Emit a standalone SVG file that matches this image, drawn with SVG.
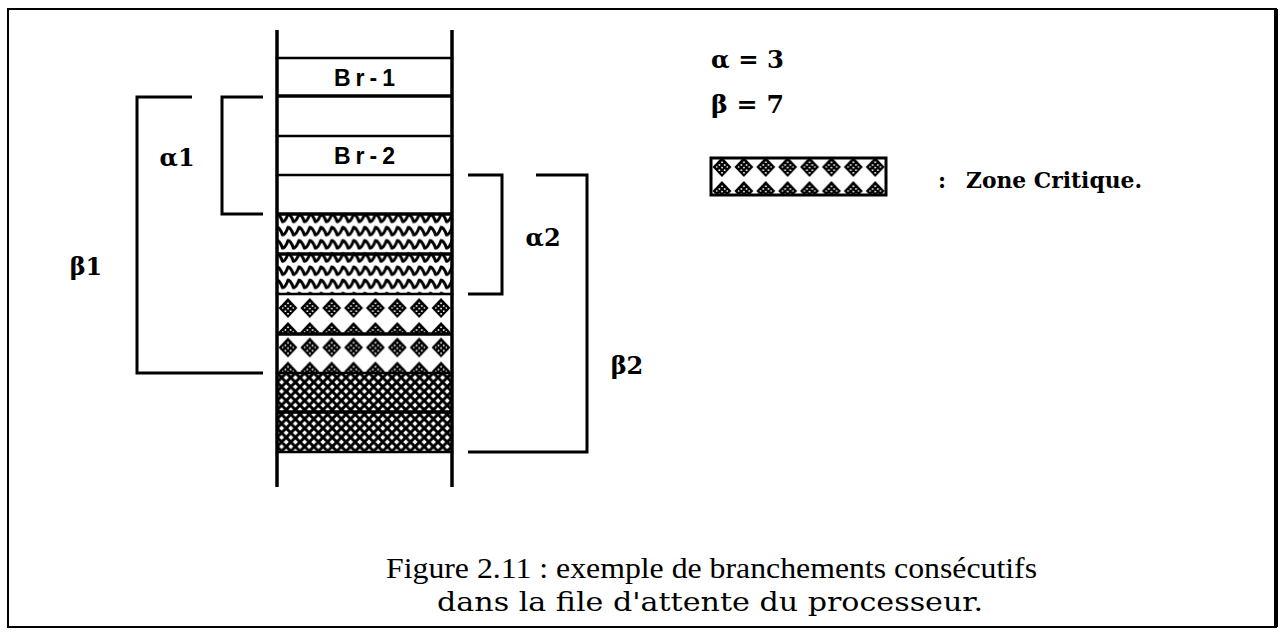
<svg xmlns="http://www.w3.org/2000/svg" width="1283" height="633" viewBox="0 0 1283 633">
<style>
.ln{stroke:#000;fill:none;stroke-width:2.5;stroke-linecap:square}
.thk{stroke:#000;fill:none;stroke-width:3.5}
.br{stroke:#000;fill:none;stroke-width:3}
.lbl{font-family:"DejaVu Serif","Liberation Serif",serif;font-weight:bold;font-size:24px;fill:#000}
.box{font-family:"Liberation Sans",Arial,sans-serif;font-weight:bold;font-size:23px;letter-spacing:5px;fill:#000}
.cap{font-family:"Liberation Serif","DejaVu Serif",serif;font-size:30px;fill:#000}
.cap2{font-family:"DejaVu Serif","Liberation Serif",serif;font-size:26px;fill:#000}
.zone{font-family:"DejaVu Serif","Liberation Serif",serif;font-weight:bold;font-size:22px;fill:#000}
</style>
<defs>
<pattern id="wave" patternUnits="userSpaceOnUse" x="277" y="0" width="21.875" height="13.2">
<path d="M-5.47,10.5 Q-2.7,10.5 0,3 Q2.7,3 5.47,10.5 Q8.2,10.5 10.94,3 Q13.7,3 16.4,10.5 Q19.1,10.5 21.875,3 Q24.6,3 27.34,10.5" fill="none" stroke="#000" stroke-width="3" stroke-linejoin="round"/>
</pattern>
<g id="dshape">
<path d="M10.94,2 L20.4,12 L10.94,22 L1.5,12 Z" fill="#000"/>
<g fill="#fff">
<rect x="10.2" y="6.5" width="1.6" height="1.6"/>
<rect x="7.6" y="9.2" width="1.6" height="1.6"/>
<rect x="12.8" y="9.2" width="1.6" height="1.6"/>
<rect x="5" y="11.3" width="1.4" height="1.4"/>
<rect x="15.5" y="11.3" width="1.4" height="1.4"/>
<rect x="10.2" y="11.8" width="1.6" height="1.6"/>
<rect x="7.6" y="14.4" width="1.6" height="1.6"/>
<rect x="12.8" y="14.4" width="1.6" height="1.6"/>
<rect x="10.2" y="17" width="1.6" height="1.6"/>
</g>
</g>
<pattern id="diam" patternUnits="userSpaceOnUse" x="277" y="8" width="21.875" height="24">
<use href="#dshape"/>
</pattern>
<pattern id="diamL" patternUnits="userSpaceOnUse" x="711" y="155" width="21.9" height="24">
<use href="#dshape"/>
</pattern>
<pattern id="hatch" patternUnits="userSpaceOnUse" x="277" y="373" width="9.2" height="9.2">
<rect width="9.2" height="9.2" fill="#fff"/>
<path d="M0,0 L9.2,9.2 M9.2,0 L0,9.2" stroke="#000" stroke-width="2.9"/>
<path d="M-1,8.2 L1,10.2 M8.2,-1 L10.2,1 M-1,1 L1,-1 M8.2,10.2 L10.2,8.2" stroke="#000" stroke-width="2.9"/>
</pattern>
</defs>

<rect id="frame" x="8" y="9" width="1268" height="618" fill="#fff" stroke="#000" stroke-width="2"/>
<line x1="1276" y1="9" x2="1276" y2="627" stroke="#000" stroke-width="4"/>

<g id="queue">
<rect x="277" y="214" width="175" height="40" fill="url(#wave)"/>
<rect x="277" y="254" width="175" height="40" fill="url(#wave)"/>
<rect x="277" y="294" width="175" height="40" fill="url(#diam)"/>
<g transform="translate(0,39.5)"><rect x="277" y="294" width="175" height="39.5" fill="url(#diam)"/></g>
<rect x="277" y="373" width="175" height="79" fill="url(#hatch)"/>
<line class="ln" x1="277" y1="58" x2="452" y2="58"/>
<line class="thk" x1="277" y1="96" x2="452" y2="96"/>
<line class="ln" x1="277" y1="136" x2="452" y2="136"/>
<line class="ln" x1="277" y1="175" x2="452" y2="175"/>
<line class="thk" x1="277" y1="214" x2="452" y2="214"/>
<line class="thk" x1="277" y1="254" x2="452" y2="254"/>
<line class="ln" x1="277" y1="294" x2="452" y2="294"/>
<line class="thk" x1="277" y1="334" x2="452" y2="334"/>
<line class="ln" x1="277" y1="373" x2="452" y2="373"/>
<line class="thk" x1="277" y1="412" x2="452" y2="412"/>
<line class="ln" x1="277" y1="452" x2="452" y2="452"/>
<line class="thk" x1="277" y1="30" x2="277" y2="487"/>
<line class="thk" x1="452" y1="30" x2="452" y2="487"/>
</g>
<g id="br1"><text class="box" x="367" y="86" text-anchor="middle">Br-1</text></g>
<g id="br2"><text class="box" x="367" y="164" text-anchor="middle">Br-2</text></g>

<g id="connectors">
<path class="br" d="M192,97 H137 V373 H263"/>
<path class="br" d="M263,97 H222 V214 H263"/>
<path class="br" d="M468,175 H502 V294 H468"/>
<path class="br" d="M536,175 H587 V452 H468"/>
</g>
<g id="alpha1"><text class="lbl" x="177" y="166" text-anchor="middle">α1</text></g>
<g id="beta1"><text class="lbl" x="86" y="275" text-anchor="middle">β1</text></g>
<g id="alpha2"><text class="lbl" x="543" y="246" text-anchor="middle">α2</text></g>
<g id="beta2"><text class="lbl" x="627" y="374" text-anchor="middle">β2</text></g>

<g id="legend">
<text class="lbl" x="711" y="68" textLength="73" lengthAdjust="spacingAndGlyphs">α = 3</text>
<text class="lbl" x="711" y="113" textLength="73" lengthAdjust="spacingAndGlyphs">β = 7</text>
<rect x="711" y="158" width="175" height="37" fill="url(#diamL)" stroke="#000" stroke-width="3"/>
<text class="zone" x="938" y="188">:</text>
<text class="zone" x="966" y="188" textLength="176" lengthAdjust="spacingAndGlyphs">Zone Critique.</text>
</g>

<g id="caption">
<text class="cap" x="386" y="578" textLength="651" lengthAdjust="spacingAndGlyphs">Figure 2.11 : exemple de branchements consécutifs</text>
<text class="cap2" x="437" y="611" textLength="546" lengthAdjust="spacingAndGlyphs">dans la file d'attente du processeur.</text>
</g>
</svg>
